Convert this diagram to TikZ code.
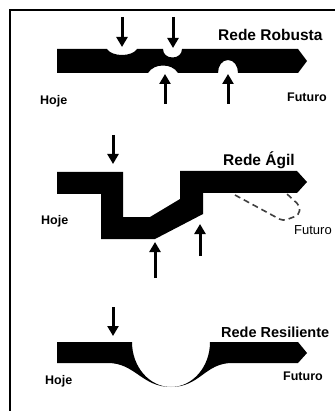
\documentclass[tikz,border=0pt]{standalone}
\usepackage{fontspec}
\setmainfont{Liberation Sans}
\usetikzlibrary{arrows.meta}

\tikzset{
  band/.style={fill=black, draw=none},
  hit/.style={line width=3pt, -{Triangle[width=11pt,length=10pt]}},
  title/.style={font=\bfseries\fontsize{15.5}{18}\selectfont, anchor=base west, inner sep=0pt},
  lbl/.style={font=\bfseries\fontsize{12.5}{15}\selectfont, anchor=base west, inner sep=0pt},
  lblthin/.style={font=\fontsize{13}{15}\selectfont, anchor=base west, inner sep=0pt},
  alt/.style={draw=black!75, line width=1.6pt, dash pattern=on 6pt off 4pt, rounded corners=4pt},
  frame/.style={line width=2pt}
}

\begin{document}
\begin{tikzpicture}[x=1pt, y=-1pt]
\useasboundingbox (0,0) rectangle (334,411);
\fill[white] (0,0) rectangle (334,411);

% outer frame (left and top sides)
\draw[frame] (10,420) -- (10,10) -- (345,10);

% ---------- Rede Robusta ----------
\fill[band] (57,49) -- (107,49)
  .. controls (112,57) and (132,57) .. (137,49)
  -- (163,49)
  .. controls (163,54) and (167,57.5) .. (172.5,57.5)
  .. controls (178,57.5) and (182,54) .. (182,49)
  -- (298,49) -- (307,61) -- (298,73) -- (238,73)
  .. controls (238,66) and (234,60) .. (228,60)
  .. controls (222,60) and (218,66) .. (218,73)
  -- (178,73)
  .. controls (172,63) and (154,63) .. (148,73)
  -- (57,73) -- cycle;

\coordinate (r1s) at (122,17);  \coordinate (r1e) at (122,47);
\coordinate (r2s) at (173,17);  \coordinate (r2e) at (173,48);
\coordinate (r3s) at (165,104); \coordinate (r3e) at (165,74);
\coordinate (r4s) at (228,104); \coordinate (r4e) at (228,74);
\draw[hit] (r1s) -- (r1e);
\draw[hit] (r2s) -- (r2e);
\draw[hit] (r3s) -- (r3e);
\draw[hit] (r4s) -- (r4e);

\node[title] (tRob) at (218,41) {Rede Robusta};
\node[lbl] (hRob) at (40,105) {Hoje};
\node[lbl] (fRob) at (287,102) {Futuro};

% ---------- Rede Ágil ----------
\fill[band] (57,172) -- (123,172) -- (123,217) -- (150,217) -- (180,199)
  -- (180,171) -- (297,171) -- (307,182) -- (297,193) -- (203,193)
  -- (203,214) -- (155,239) -- (101,239) -- (101,194) -- (57,194) -- cycle;

\draw[alt] (235,195) -- (283,221) -- (299,215) -- (300,206) -- (287,194);

\coordinate (a1s) at (113,135); \coordinate (a1e) at (113,164);
\coordinate (a2s) at (155,278); \coordinate (a2e) at (155,242);
\coordinate (a3s) at (200,256); \coordinate (a3e) at (200,224);
\draw[hit] (a1s) -- (a1e);
\draw[hit] (a2s) -- (a2e);
\draw[hit] (a3s) -- (a3e);

\node[title] (tAgi) at (223,166) {Rede Ágil};
\node[lbl] (hAgi) at (41,224) {Hoje};
\node[lblthin] (fAgi) at (294,234) {Futuro};

% ---------- Rede Resiliente ----------
\fill[band] (57,342) -- (132,342)
  .. controls (132,367) and (149.5,387) .. (171,387)
  .. controls (192.5,387) and (210,367) .. (210,342)
  -- (298,342) -- (307,353) -- (298,363) -- (232,363)
  .. controls (205,363) and (200,387) .. (171,387)
  .. controls (142,387) and (135,363) .. (108,363)
  -- (57,363) -- cycle;

\coordinate (s1s) at (113,307); \coordinate (s1e) at (113,336);
\draw[hit] (s1s) -- (s1e);

\node[title, font=\bfseries\fontsize{14.5}{17}\selectfont] (tRes) at (221,337) {Rede Resiliente};
\node[lbl] (hRes) at (45,384) {Hoje};
\node[lbl] (fRes) at (283,380) {Futuro};
\end{tikzpicture}
\end{document}
